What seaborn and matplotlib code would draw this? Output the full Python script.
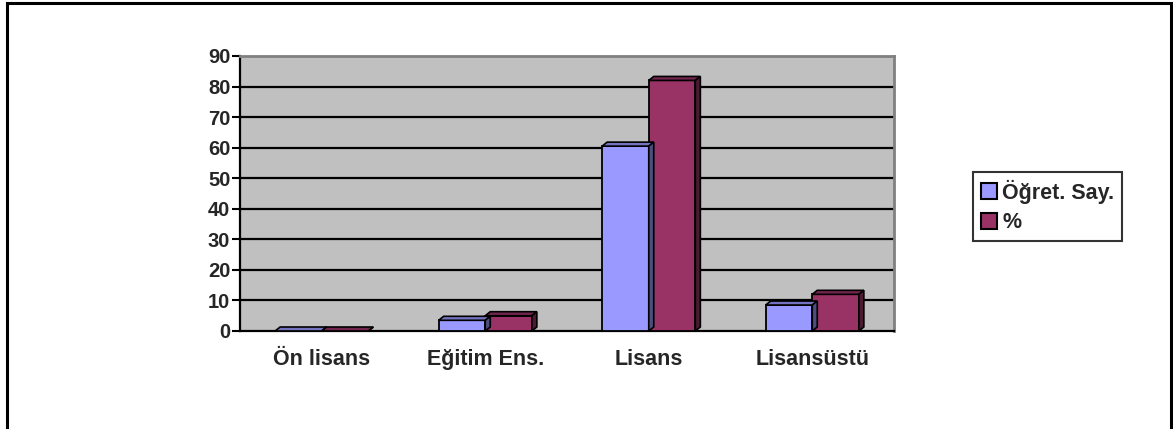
import numpy as np
import pandas as pd
import matplotlib
matplotlib.use("Agg")
import matplotlib.pyplot as plt
from matplotlib.patches import Polygon, Rectangle
from matplotlib.lines import Line2D
import matplotlib.colors as mcolors
import seaborn as sns

# verileri
kategoriler = ["Ön lisans", "Eğitim Ens.", "Lisans", "Lisansüstü"]
seriler = ["Öğret. Say.", "%"]
ogret_say = [0, 3.5, 60.5, 8.5]
yuzde = [0, 5, 82, 12]
renkler = ["#9999ff", "#993366"]
y_ticks = list(range(0, 100, 10))

df = pd.DataFrame({
    "kategori": kategoriler * 2,
    "seri": [seriler[0]] * 4 + [seriler[1]] * 4,
    "deger": ogret_say + yuzde,
})

sns.set_style("white")
plt.rcParams["font.family"] = ["Liberation Sans", "DejaVu Sans"]
plt.rcParams["font.weight"] = "bold"

W, H = 1173, 429
fig = plt.figure(figsize=(W / 100, H / 100), dpi=100)
ax = fig.add_axes([240 / W, 1 - 331 / H, (894 - 240) / W, (331 - 56) / H])
ax.set_facecolor("#c0c0c0")

sns.barplot(data=df, x="kategori", y="deger", hue="seri", palette=renkler,
            width=0.57, edgecolor="black", linewidth=1.3, saturation=1,
            legend=False, ax=ax, zorder=3)

ax.set_xlim(-0.5, 3.5)
ax.set_ylim(0, 90)
ax.set_yticks(y_ticks)
ax.set_yticklabels([str(t) for t in y_ticks], fontsize=14.5, fontweight="bold")
ax.set_xticks(range(len(kategoriler)))
ax.set_xticklabels(kategoriler, fontsize=15.5, fontweight="bold")
ax.set_xticks(np.arange(-0.5, 4, 1), minor=True)
ax.tick_params(axis="x", which="major", length=0, pad=13)
ax.tick_params(axis="x", which="minor", length=6, width=1.5, color="black", direction="out")
ax.tick_params(axis="y", length=6, width=1.5, color="black", direction="out", left=True, pad=1)
ax.set_xlabel("")
ax.set_ylabel("")

# yatay izgara cizgileri
for t in y_ticks[1:-1]:
    ax.axhline(t, color="black", linewidth=1.6, zorder=1)

for s in ["top", "right"]:
    ax.spines[s].set_color("#808080")
    ax.spines[s].set_linewidth(2)
ax.spines["left"].set_color("black")
ax.spines["left"].set_linewidth(1.6)
ax.spines["bottom"].set_color("black")
ax.spines["bottom"].set_linewidth(1.6)

# 3B gorunum: ust ve yan yuzler
dx = 5 / 163.5
dy = 4 * 90 / 275
for p in list(ax.patches):
    x0 = p.get_x()
    w = p.get_width()
    h = p.get_height()
    fc = p.get_facecolor()
    top_c = tuple(np.array(mcolors.to_rgb(fc)) * 0.75)
    side_c = tuple(np.array(mcolors.to_rgb(fc)) * 0.5)
    top = Polygon([(x0, h), (x0 + dx, h + dy), (x0 + w + dx, h + dy), (x0 + w, h)],
                  closed=True, facecolor=top_c, edgecolor="black", linewidth=1.2, zorder=4)
    side = Polygon([(x0 + w, 0), (x0 + w + dx, dy), (x0 + w + dx, h + dy), (x0 + w, h)],
                   closed=True, facecolor=side_c, edgecolor="black", linewidth=1.2, zorder=4)
    ax.add_patch(top)
    ax.add_patch(side)

# lejant
handles = [Line2D([0], [0], marker="s", color="none", markerfacecolor=c,
                  markeredgecolor="black", markeredgewidth=1.5, markersize=12)
           for c in renkler]
leg = fig.legend(handles, seriler, loc="upper left",
                 bbox_to_anchor=(973 / W, 1 - 172 / H), borderaxespad=0,
                 frameon=True, fancybox=False,
                 handlelength=0.8, handletextpad=0.2, borderpad=0.35, labelspacing=0.4,
                 prop={"size": 15.5, "weight": "bold"})
leg.get_frame().set_edgecolor("black")
leg.get_frame().set_linewidth(1.5)

# dis cerceve
fig.patches.append(Rectangle((7 / W, -0.1), (1171 - 7) / W, 1.1 - 3 / H,
                             transform=fig.transFigure, fill=False,
                             edgecolor="black", linewidth=2.2))

fig.savefig("out.png", dpi=100, facecolor="white")
